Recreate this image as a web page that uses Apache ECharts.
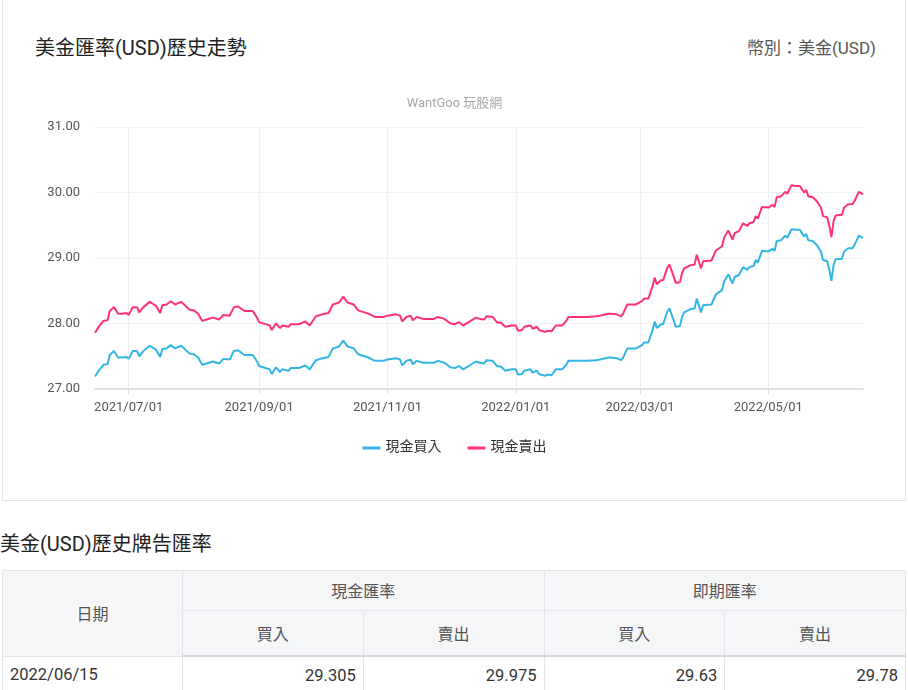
<!DOCTYPE html>
<html>
<head>
<meta charset="utf-8">
<script src="https://cdn.jsdelivr.net/npm/echarts@6/dist/echarts.min.js"></script>
<style>
  html, body { margin: 0; padding: 0; background: #fff; }
  body { width: 908px; height: 690px; overflow: hidden; position: relative;
         font-family: Roboto, "Noto Sans CJK TC", sans-serif; color: #222; }
  .card { position: absolute; left: 2px; top: -20px; width: 902px; height: 519px;
          border: 1px solid #e2e2e2; }
  .card-title { position: absolute; left: 32px; top: 51px; font-size: 20px; color: #222; }
  .card-sub { position: absolute; right: 29px; top: 53px; font-size: 17px; color: #555; }
  #chart { position: absolute; left: 3px; top: 80px; width: 903px; height: 410px; }
  .heading { position: absolute; left: 0; top: 528px; font-size: 20px; color: #222; }
  table.rates { position: absolute; left: 2px; top: 570px; width: 904px;
                border-collapse: collapse; table-layout: fixed; font-size: 16px; }
  table.rates th { background: #f5f6f8; color: #555; font-weight: normal;
                   border: 1px solid #e3e5ea; }
  table.rates tr.r1 th { height: 36px; padding-bottom: 2px; }
  table.rates tr.r2 th { height: 42px; border-bottom: 2px solid #d3d6dd; }
  table.rates td { border: 1px solid #e3e5ea; height: 36px; color: #333;
                   text-align: right; padding: 0 7px; font-size: 16.5px; }
  table.rates td:first-child { text-align: left; }
</style>
</head>
<body>
<div class="card">
  <div class="card-title">美金匯率(USD)歷史走勢</div>
  <div class="card-sub">幣別：美金(USD)</div>
</div>
<div id="chart"></div>
<div class="heading">美金(USD)歷史牌告匯率</div>
<table class="rates">
  <colgroup><col style="width:180px"><col><col><col><col></colgroup>
  <tr class="r1"><th rowspan="2">日期</th><th colspan="2">現金匯率</th><th colspan="2">即期匯率</th></tr>
  <tr class="r2"><th>買入</th><th>賣出</th><th>買入</th><th>賣出</th></tr>
  <tr id="latest"></tr>
</table>
<script>
// sample dates
const dates = [
  '2021/06/15','2021/06/17','2021/06/19','2021/06/21','2021/06/22','2021/06/24','2021/06/26','2021/06/28','2021/06/30',
  '2021/07/01','2021/07/03','2021/07/05','2021/07/06','2021/07/08','2021/07/11','2021/07/13','2021/07/14','2021/07/16','2021/07/17','2021/07/19','2021/07/21','2021/07/23','2021/07/26','2021/07/28','2021/07/30',
  '2021/08/01','2021/08/03','2021/08/05','2021/08/07','2021/08/10','2021/08/13','2021/08/15','2021/08/18','2021/08/20','2021/08/22','2021/08/25','2021/08/29','2021/08/31',
  '2021/09/01','2021/09/04','2021/09/06','2021/09/07','2021/09/09','2021/09/11','2021/09/12','2021/09/15','2021/09/16','2021/09/20','2021/09/23','2021/09/25','2021/09/28',
  '2021/10/01','2021/10/04','2021/10/06','2021/10/09','2021/10/11','2021/10/13','2021/10/16','2021/10/18','2021/10/21','2021/10/23','2021/10/26','2021/10/30',
  '2021/11/01','2021/11/05','2021/11/07','2021/11/08','2021/11/10','2021/11/12','2021/11/13','2021/11/15','2021/11/18','2021/11/23','2021/11/25','2021/11/28',
  '2021/12/01','2021/12/03','2021/12/05','2021/12/07','2021/12/09','2021/12/13','2021/12/15','2021/12/17','2021/12/18','2021/12/21','2021/12/23','2021/12/25','2021/12/27','2021/12/30',
  '2022/01/01','2022/01/02','2022/01/04','2022/01/05','2022/01/08','2022/01/09','2022/01/11','2022/01/12','2022/01/15','2022/01/16','2022/01/18','2022/01/20','2022/01/23','2022/01/25','2022/01/26','2022/01/30',
  '2022/02/04','2022/02/08','2022/02/10','2022/02/14','2022/02/15','2022/02/18','2022/02/20','2022/02/21','2022/02/23','2022/02/27',
  '2022/03/02','2022/03/03','2022/03/05','2022/03/07','2022/03/08','2022/03/09','2022/03/11','2022/03/12','2022/03/14','2022/03/15','2022/03/17','2022/03/18','2022/03/20','2022/03/21','2022/03/22','2022/03/25','2022/03/27','2022/03/28','2022/03/30','2022/03/31',
  '2022/04/04','2022/04/06','2022/04/09','2022/04/10','2022/04/12','2022/04/14','2022/04/15','2022/04/17','2022/04/19','2022/04/21','2022/04/22','2022/04/24','2022/04/25','2022/04/26','2022/04/28',
  '2022/05/01','2022/05/03','2022/05/04','2022/05/05','2022/05/07','2022/05/09','2022/05/10','2022/05/12','2022/05/14','2022/05/16','2022/05/18','2022/05/19','2022/05/20','2022/05/22','2022/05/24','2022/05/26','2022/05/27','2022/05/29','2022/05/30','2022/05/31',
  '2022/06/01','2022/06/02','2022/06/05','2022/06/06','2022/06/08','2022/06/10','2022/06/11','2022/06/13','2022/06/15'
];

// 現金買入
const cashBuy = [
  27.19,27.29,27.37,27.38,27.52,27.58,27.48,27.48,27.49,
  27.46,27.58,27.58,27.50,27.58,27.66,27.62,27.60,27.49,27.61,27.62,27.67,27.62,27.66,27.60,27.54,
  27.53,27.48,27.37,27.39,27.42,27.39,27.46,27.45,27.58,27.59,27.52,27.52,27.42,
  27.35,27.32,27.30,27.23,27.33,27.26,27.30,27.28,27.32,27.32,27.36,27.30,27.44,
  27.47,27.49,27.62,27.65,27.74,27.65,27.62,27.53,27.50,27.48,27.43,27.43,
  27.45,27.47,27.45,27.36,27.43,27.45,27.38,27.43,27.40,27.40,27.43,27.40,
  27.33,27.32,27.35,27.30,27.34,27.42,27.40,27.39,27.44,27.43,27.35,27.34,27.28,27.30,
  27.30,27.22,27.23,27.28,27.30,27.25,27.28,27.23,27.20,27.22,27.21,27.30,27.30,27.37,27.43,27.43,
  27.43,27.44,27.45,27.48,27.48,27.47,27.44,27.48,27.62,27.62,
  27.67,27.71,27.71,27.90,28.03,27.93,27.99,27.99,28.18,28.23,28.05,27.95,27.96,28.10,28.17,28.22,28.23,28.38,28.17,28.28,
  28.29,28.44,28.51,28.64,28.75,28.61,28.71,28.74,28.86,28.82,28.86,28.88,28.97,28.93,29.11,
  29.10,29.14,29.11,29.26,29.27,29.34,29.31,29.44,29.43,29.43,29.33,29.37,29.27,29.26,29.20,29.10,28.97,28.95,28.82,28.65,
  28.89,28.98,28.99,29.10,29.15,29.15,29.20,29.34,29.305
];

// 現金賣出
const cashSell = [
  27.86,27.96,28.04,28.05,28.19,28.25,28.15,28.15,28.16,
  28.13,28.25,28.25,28.17,28.25,28.33,28.29,28.27,28.16,28.28,28.29,28.34,28.29,28.33,28.27,28.21,
  28.20,28.15,28.04,28.06,28.09,28.06,28.13,28.12,28.25,28.26,28.19,28.19,28.09,
  28.02,27.99,27.97,27.90,28.00,27.93,27.97,27.95,27.99,27.99,28.03,27.97,28.11,
  28.14,28.16,28.29,28.32,28.41,28.32,28.29,28.20,28.17,28.15,28.10,28.10,
  28.12,28.14,28.12,28.03,28.10,28.12,28.05,28.10,28.07,28.07,28.10,28.07,
  28.00,27.99,28.02,27.97,28.01,28.09,28.07,28.06,28.11,28.10,28.02,28.01,27.95,27.97,
  27.97,27.89,27.90,27.95,27.97,27.92,27.95,27.90,27.87,27.89,27.88,27.97,27.97,28.04,28.10,28.10,
  28.10,28.11,28.12,28.15,28.15,28.14,28.11,28.15,28.29,28.29,
  28.34,28.38,28.38,28.57,28.70,28.60,28.66,28.66,28.85,28.90,28.72,28.62,28.63,28.77,28.84,28.89,28.90,29.05,28.84,28.95,
  28.96,29.11,29.18,29.31,29.42,29.28,29.38,29.41,29.53,29.49,29.53,29.55,29.64,29.60,29.78,
  29.77,29.81,29.78,29.93,29.94,30.01,29.98,30.11,30.10,30.10,30.00,30.04,29.94,29.93,29.87,29.77,29.64,29.62,29.49,29.32,
  29.56,29.65,29.66,29.77,29.82,29.82,29.87,30.01,29.975
];

const tickDates = ['2021/07/01', '2021/09/01', '2021/11/01', '2022/01/01', '2022/03/01', '2022/05/01'];
const yTicks = [27, 28, 29, 30, 31];

// latest table row: 日期, 現金買入, 現金賣出, 即期買入, 即期賣出
const latestRow = ['2022/06/15', '29.305', '29.975', '29.63', '29.78'];

document.getElementById('latest').innerHTML = latestRow.map(v => '<td>' + v + '</td>').join('');

// every calendar day from first to last date, for the x axis
const pad = n => (n < 10 ? '0' : '') + n;
const allDays = [];
{
  const p0 = dates[0].split('/').map(Number);
  const p1 = dates[dates.length - 1].split('/').map(Number);
  let t = Date.UTC(p0[0], p0[1] - 1, p0[2]);
  const end = Date.UTC(p1[0], p1[1] - 1, p1[2]);
  while (t <= end) {
    const d = new Date(t);
    allDays.push(d.getUTCFullYear() + '/' + pad(d.getUTCMonth() + 1) + '/' + pad(d.getUTCDate()));
    t += 86400000;
  }
}
const isTick = (idx, val) => tickDates.indexOf(val) >= 0;

const chart = echarts.init(document.getElementById('chart'));
chart.setOption({
  animation: false,
  textStyle: { fontFamily: 'Roboto, "Noto Sans CJK TC", sans-serif' },
  title: {
    text: 'WantGoo 玩股網',
    left: 'center',
    top: 12,
    textStyle: { fontSize: 13, color: '#a8a8a8', fontWeight: 'normal' }
  },
  legend: {
    top: 356,
    left: 'center',
    icon: 'roundRect',
    itemWidth: 18,
    itemHeight: 3,
    itemGap: 26,
    textStyle: { fontSize: 14, color: '#333' },
    data: ['現金買入', '現金賣出']
  },
  grid: { left: 92, right: 43, top: 47, bottom: 101 },
  xAxis: {
    type: 'category',
    data: allDays,
    boundaryGap: false,
    axisLine: { lineStyle: { color: '#e0e0e0', width: 2 } },
    axisTick: { interval: isTick, length: 5, lineStyle: { color: '#e0e0e0' } },
    axisLabel: { interval: isTick, color: '#555', fontSize: 13, margin: 12 },
    splitLine: { show: true, interval: isTick, lineStyle: { color: '#f0f0f0' } }
  },
  yAxis: {
    type: 'value',
    min: yTicks[0],
    max: yTicks[yTicks.length - 1],
    interval: 1,
    axisLine: { show: false },
    axisTick: { show: false },
    axisLabel: { color: '#555', fontSize: 13, margin: 15, formatter: v => v.toFixed(2) },
    splitLine: { lineStyle: { color: '#f0f0f0' } }
  },
  series: [
    {
      name: '現金買入',
      type: 'line',
      showSymbol: false,
      data: dates.map((d, i) => [d, cashBuy[i]]),
      itemStyle: { color: '#33b5e5' },
      lineStyle: { width: 2, color: '#33b5e5' }
    },
    {
      name: '現金賣出',
      type: 'line',
      showSymbol: false,
      data: dates.map((d, i) => [d, cashSell[i]]),
      itemStyle: { color: '#ff3371' },
      lineStyle: { width: 2, color: '#ff3371' }
    }
  ]
});
</script>
</body>
</html>
